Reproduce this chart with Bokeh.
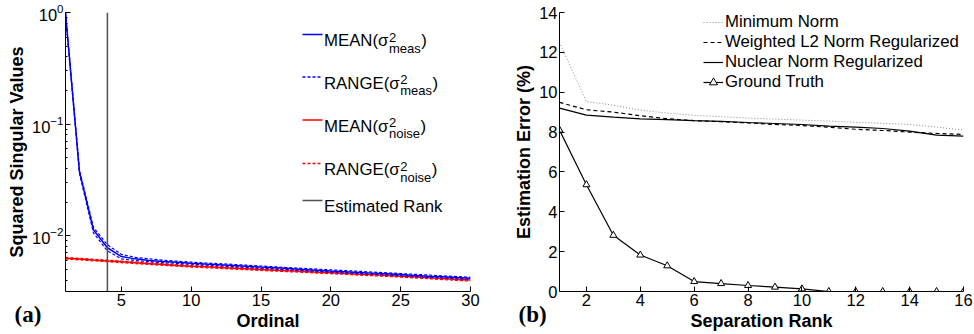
from bokeh.plotting import figure
from bokeh.layouts import row
from bokeh.models import Range1d, FixedTicker, Span, Label, Arrow, Legend, LegendItem, LogTicker, Title
from bokeh.embed import file_html
from bokeh.resources import INLINE

# ---------------- data: panel (a) ----------------
ordinal = list(range(1, 31))
meas_mean = [0.99, 0.0375, 0.0113, 0.0078, 0.0065, 0.0062, 0.0060, 0.00588, 0.00578, 0.00567,
             0.00558, 0.0055, 0.00541, 0.00532, 0.00523, 0.00515, 0.00507, 0.00499, 0.00491, 0.00483,
             0.00476, 0.00469, 0.00462, 0.00455, 0.00448, 0.00441, 0.00434, 0.00428, 0.00422, 0.00416]
meas_hi = [1.0, 0.0388, 0.0119, 0.0083, 0.0068, 0.0064, 0.0062, 0.00602, 0.00591, 0.0058,
           0.0057, 0.00562, 0.00553, 0.00544, 0.00535, 0.00526, 0.00518, 0.0051, 0.00502, 0.00494,
           0.00487, 0.0048, 0.00472, 0.00465, 0.00458, 0.00451, 0.00444, 0.00437, 0.00431, 0.00425]
meas_lo = [0.975, 0.0362, 0.0106, 0.0073, 0.0062, 0.006, 0.00584, 0.00574, 0.00565, 0.00555,
           0.00546, 0.00538, 0.00529, 0.0052, 0.00511, 0.00504, 0.00496, 0.00488, 0.0048, 0.00472,
           0.00465, 0.00458, 0.00452, 0.00445, 0.00438, 0.00431, 0.00424, 0.00419, 0.00413, 0.00407]
noise_mean = [0.00628, 0.00617, 0.00605, 0.00594, 0.00583, 0.00572, 0.00562, 0.00552, 0.00542, 0.00533,
              0.00526, 0.00519, 0.00512, 0.00505, 0.00498, 0.00491, 0.00484, 0.00478, 0.00471, 0.00465,
              0.00459, 0.00452, 0.00446, 0.0044, 0.00434, 0.00427, 0.0042, 0.00413, 0.00406, 0.004]
noise_hi = [0.00638, 0.00627, 0.00615, 0.00604, 0.00593, 0.00582, 0.00571, 0.00561, 0.00551, 0.00542,
            0.00535, 0.00528, 0.00521, 0.00514, 0.00507, 0.005, 0.00493, 0.00486, 0.00479, 0.00473,
            0.00467, 0.0046, 0.00454, 0.00448, 0.00442, 0.00435, 0.00428, 0.00421, 0.00414, 0.00408]
noise_lo = [0.00619, 0.00608, 0.00596, 0.00585, 0.00574, 0.00563, 0.00553, 0.00543, 0.00533, 0.00524,
            0.00517, 0.0051, 0.00503, 0.00496, 0.00489, 0.00482, 0.00476, 0.0047, 0.00463, 0.00457,
            0.00451, 0.00444, 0.00438, 0.00432, 0.00426, 0.00419, 0.00412, 0.00405, 0.00398, 0.00392]
estimated_rank = 4
x_ticks_a = [5, 10, 15, 20, 25, 30]

# ---------------- data: panel (b) ----------------
sep_rank = list(range(1, 17))
min_norm = [12.5, 9.53, 9.35, 9.1, 8.95, 8.84, 8.77, 8.7, 8.65, 8.6, 8.55, 8.49, 8.44, 8.38, 8.25, 8.1]
weighted_l2 = [9.49, 9.12, 9.0, 8.82, 8.67, 8.57, 8.52, 8.46, 8.38, 8.33, 8.24, 8.14, 8.08, 8.0, 7.93, 7.88]
nuclear = [9.2, 8.85, 8.75, 8.66, 8.62, 8.57, 8.54, 8.48, 8.43, 8.38, 8.3, 8.25, 8.18, 8.05, 7.85, 7.8]
ground_truth = [8.1, 5.36, 2.82, 1.83, 1.29, 0.5, 0.4, 0.3, 0.22, 0.13, 0, 0, 0, 0, 0, 0]
x_ticks_b = [2, 4, 6, 8, 10, 12, 14, 16]
y_ticks_b = [0, 2, 4, 6, 8, 10, 12, 14]

FONT = "Liberation Sans"
BLUE = "#0000ff"
RED = "#ff0000"
RANK = "#505050"
LEG_SIZE = 16.8


def style_axes(p):
    p.xgrid.visible = False
    p.ygrid.visible = False
    p.outline_line_color = None
    p.background_fill_color = "white"
    p.border_fill_color = "white"
    for ax in (p.xaxis[0], p.yaxis[0]):
        ax.axis_line_color = "black"
        ax.axis_line_width = 1
        ax.major_tick_line_color = "black"
        ax.minor_tick_line_color = "black"
        ax.major_tick_in = 5
        ax.major_tick_out = 0
        ax.minor_tick_in = 2
        ax.minor_tick_out = 0
        ax.major_label_text_font = FONT
        ax.major_label_text_font_size = "16.5px"
        ax.major_label_text_color = "black"
        ax.axis_label_text_font = FONT
        ax.axis_label_text_font_style = "bold"
        ax.axis_label_text_font_size = "18px"
        ax.axis_label_text_color = "black"
        ax.major_label_standoff = 2
        ax.axis_label_standoff = 2


def panel_tag(p, text, offset):
    p.add_layout(Title(text=text, align="left", offset=offset, vertical_align="top",
                       standoff=-63, text_font="Liberation Serif", text_font_style="bold",
                       text_font_size="23px", text_color="black"), "below")


# ---------------- panel (a) ----------------
p1 = figure(width=490, height=334, y_axis_type="log", output_backend="svg", toolbar_location=None,
            x_range=Range1d(1, 30), y_range=Range1d(10 ** -2.5, 1.0),
            min_border_left=65, min_border_right=20, min_border_top=12, min_border_bottom=42)
style_axes(p1)
p1.xaxis.ticker = FixedTicker(ticks=x_ticks_a, minor_ticks=[])
p1.yaxis.ticker = LogTicker(num_minor_ticks=10)
p1.xaxis.axis_label = "Ordinal"
p1.yaxis.axis_label = "Squared Singular Values"

p1.line(ordinal, noise_hi, line_color=RED, line_width=1.3, line_dash="3 2")
p1.line(ordinal, noise_lo, line_color=RED, line_width=1.3, line_dash="3 2")
p1.line(ordinal, noise_mean, line_color=RED, line_width=1.5)
p1.line(ordinal, meas_hi, line_color=BLUE, line_width=1.2, line_dash="3 2")
p1.line(ordinal, meas_lo, line_color=BLUE, line_width=1.2, line_dash="3 2")
p1.line(ordinal, meas_mean, line_color=BLUE, line_width=1.5)
p1.add_layout(Span(location=estimated_rank, dimension="height", line_color=RANK, line_width=1.5))

# manual legend with sub/superscripts
EM = {"M": .833, "E": .667, "A": .667, "N": .722, "(": .333, ")": .333, "R": .722, "G": .778,
      "σ": .617, "m": .833, "e": .556, "a": .556, "s": .5, "n": .556, "o": .556, "i": .222, "2": .556}


def tw(s, size):
    return sum(EM.get(c, .556) for c in s) * size


legend_a = [
    ("MEAN(σ", "2", "meas", BLUE, None, 257.0),
    ("RANGE(σ", "2", "meas", BLUE, "3 2", 214.5),
    ("MEAN(σ", "2", "noise", RED, None, 171.5),
    ("RANGE(σ", "2", "noise", RED, "3 2", 128.0),
    ("Estimated Rank", None, None, RANK, None, 91.0),
]
for main, sup, sub, col, dash, yc in legend_a:
    kw = dict(line_color=col, line_width=1.5)
    if dash:
        kw["line_dash"] = dash
    p1.add_layout(Arrow(end=None, x_start=237, y_start=yc, x_end=257, y_end=yc,
                        start_units="screen", end_units="screen", **kw))
    tx = 258.5
    base = yc - 6
    p1.add_layout(Label(x=tx, y=base, x_units="screen", y_units="screen", text=main,
                        text_font=FONT, text_font_size=f"{LEG_SIZE}px", text_baseline="alphabetic",
                        text_color="black"))
    if sup:
        sx = tx + tw(main, LEG_SIZE) + 0.5
        p1.add_layout(Label(x=sx, y=base + 3.5, x_units="screen", y_units="screen", text=sup,
                            text_font=FONT, text_font_size="13px", text_baseline="alphabetic",
                            text_color="black"))
        p1.add_layout(Label(x=sx, y=base - 7.5, x_units="screen", y_units="screen", text=sub,
                            text_font=FONT, text_font_size="13px", text_baseline="alphabetic",
                            text_color="black"))
        p1.add_layout(Label(x=sx + tw(sub, 13) + 0.5, y=base, x_units="screen", y_units="screen",
                            text=")", text_font=FONT, text_font_size=f"{LEG_SIZE}px",
                            text_baseline="alphabetic", text_color="black"))

panel_tag(p1, "(a)", -51)

# ---------------- panel (b) ----------------
p2 = figure(width=484, height=334, output_backend="svg", toolbar_location=None,
            x_range=Range1d(1, 16), y_range=Range1d(0, 14),
            min_border_left=69, min_border_right=11, min_border_top=8, min_border_bottom=43)
style_axes(p2)
p2.xaxis.ticker = FixedTicker(ticks=x_ticks_b, minor_ticks=[])
p2.yaxis.ticker = FixedTicker(ticks=y_ticks_b, minor_ticks=[])
p2.xaxis.axis_label = "Separation Rank"
p2.yaxis.axis_label = "Estimation Error (%)"

r_min = p2.line(sep_rank, min_norm, line_color="#8a8a8a", line_width=1, line_dash="1 2")
r_w = p2.line(sep_rank, weighted_l2, line_color="black", line_width=1.2, line_dash="4 3")
r_n = p2.line(sep_rank, nuclear, line_color="black", line_width=1.2)
r_g = p2.line(sep_rank, ground_truth, line_color="black", line_width=1.2)
r_gm = p2.scatter(sep_rank, ground_truth, marker="triangle", size=7, fill_color="white",
                  line_color="black", line_width=1)

leg = Legend(items=[
    LegendItem(label="Minimum Norm", renderers=[r_min]),
    LegendItem(label="Weighted L2 Norm Regularized", renderers=[r_w]),
    LegendItem(label="Nuclear Norm Regularized", renderers=[r_n]),
    LegendItem(label="Ground Truth", renderers=[r_g, r_gm]),
], location=(144, 199))
leg.padding = 0
leg.margin = 0
leg.spacing = 0
leg.glyph_width = 20
leg.glyph_height = 20
leg.label_height = 20
leg.label_standoff = 2
leg.label_text_font = FONT
leg.label_text_font_size = f"{LEG_SIZE}px"
leg.label_text_color = "black"
leg.border_line_alpha = 0
leg.background_fill_alpha = 0
p2.add_layout(leg, "center")

panel_tag(p2, "(b)", -41)

layout = row(p1, p2)
open("out.html", "w").write(file_html(layout, INLINE))
